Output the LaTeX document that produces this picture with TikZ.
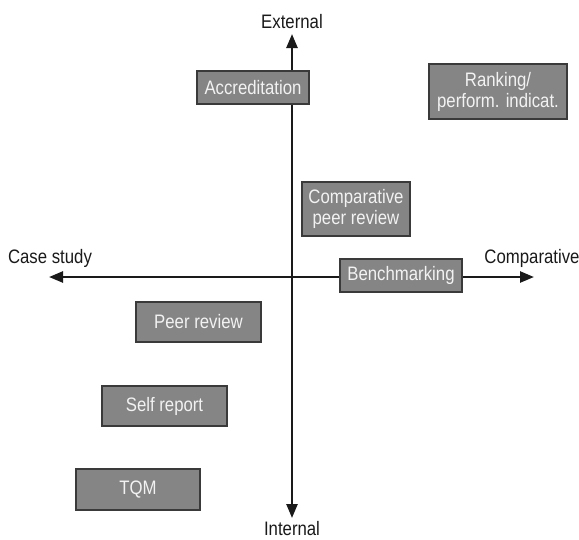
\documentclass[tikz,border=0pt]{standalone}
\usepackage{fontspec}
\setmainfont{Liberation Sans}[FakeStretch=0.86]
\usetikzlibrary{arrows.meta}
\definecolor{boxfill}{HTML}{858585}
\definecolor{boxline}{HTML}{3A3A3A}
\definecolor{boxtext}{HTML}{F2F2F2}
\definecolor{axiscol}{HTML}{1A1A1A}
\begin{document}
\begin{tikzpicture}[x=1pt,y=-1pt,
  method/.style={draw=boxline, line width=1.1pt, fill=boxfill, text=boxtext,
    font=\fontsize{19.5}{21}\selectfont, align=center, inner sep=0pt},
  axislabel/.style={text=axiscol, font=\fontsize{19.5}{21}\selectfont, inner sep=0pt},
  axisline/.style={draw=axiscol, line width=2.5pt,
    {Triangle[length=14pt,width=11pt]}-{Triangle[length=14pt,width=11pt]}}]
\useasboundingbox (0,0) rectangle (579,539);
% axis ends
\coordinate (top) at (292,34);
\coordinate (bottom) at (292,518);
\coordinate (left) at (49,277);
\coordinate (right) at (534,277);
\draw[axisline] (bottom) -- (top);
\draw[axisline] (left) -- (right);
% axis labels
\node[axislabel] (ext) at (292,22) {External};
\node[axislabel] (int) at (292,529) {Internal};
\node[axislabel] (case) at (50,258) {Case study};
\node[axislabel] (comp) at (532,258) {Comparative};
% methods
\node[method, minimum width=112pt, minimum height=33pt] (accr) at (253,87.5) {Accreditation};
\node[method, minimum width=138pt, minimum height=55pt] (rank) at (498,91.5) {Ranking/\\perform. indicat.};
\node[method, minimum width=108pt, minimum height=54pt] (cpr) at (356,209) {Comparative\\peer review};
\node[method, minimum width=122pt, minimum height=33pt] (bench) at (401,275.5) {Benchmarking};
\node[method, minimum width=125pt, minimum height=40pt] (peer) at (198.5,322) {Peer review};
\node[method, minimum width=125pt, minimum height=40pt] (self) at (164.5,406) {Self report};
\node[method, minimum width=124pt, minimum height=41pt] (tqm) at (138,489.5) {TQM};
\end{tikzpicture}
\end{document}
